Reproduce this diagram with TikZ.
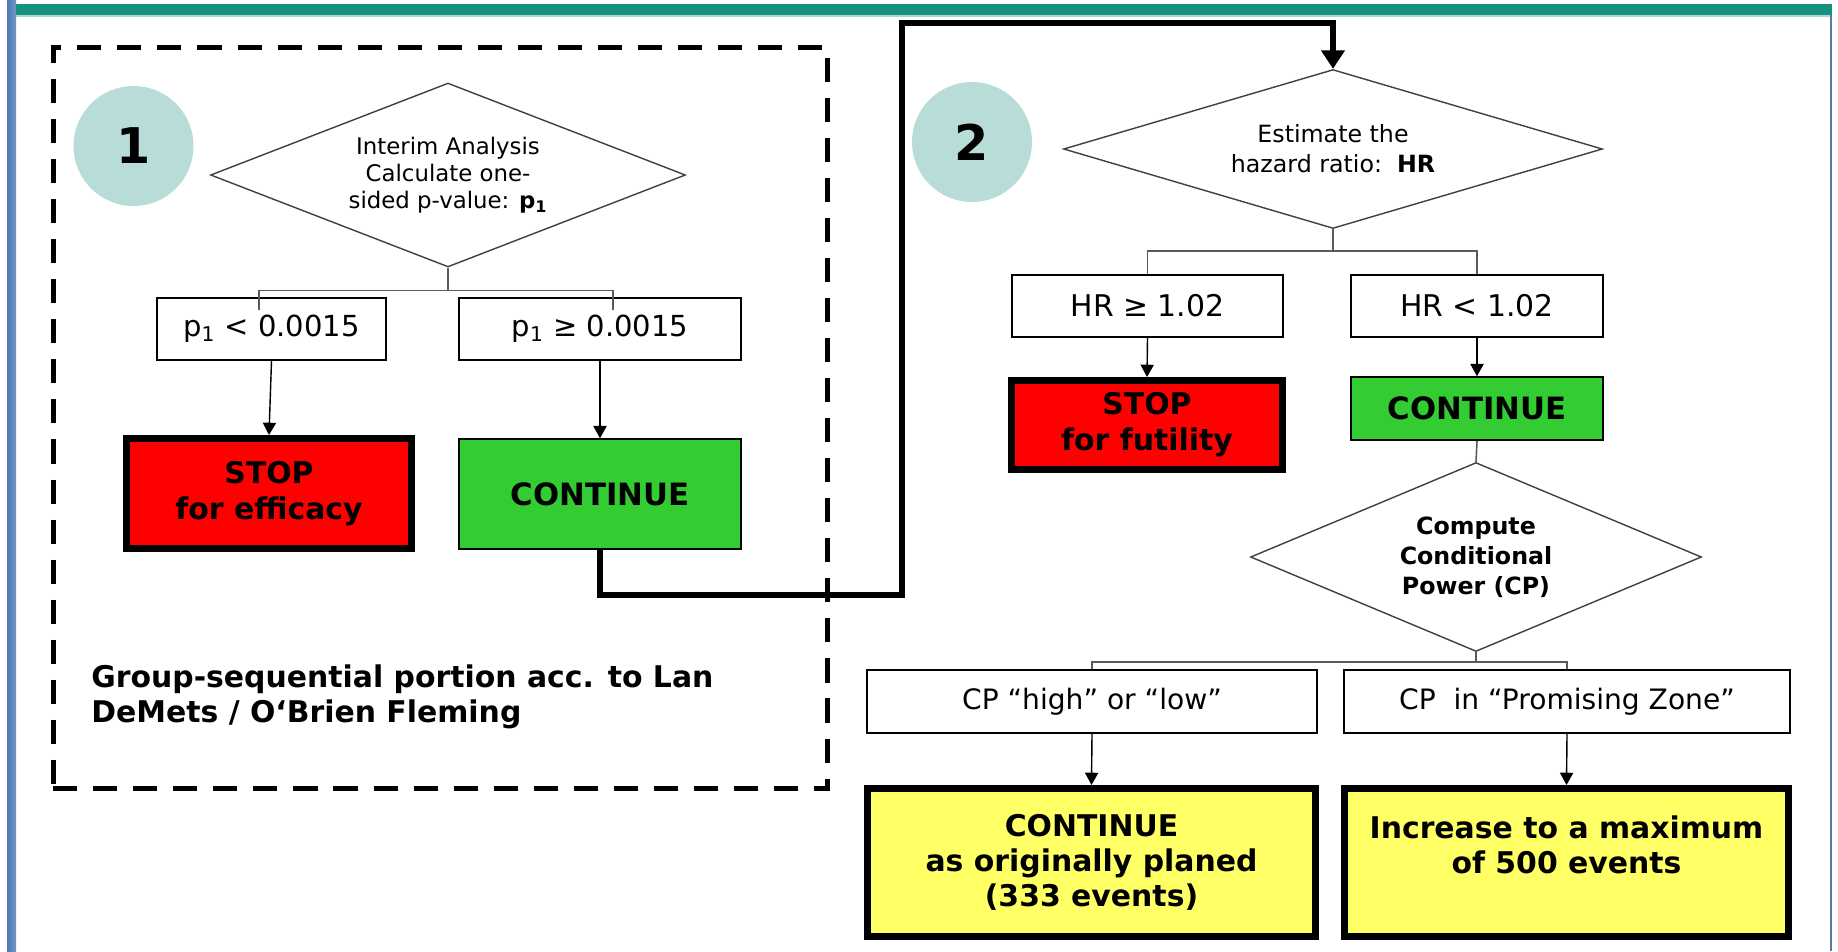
\documentclass[tikz,border=0pt]{standalone}
\usepackage{fontspec}
\setmainfont{DejaVu Sans}
\usetikzlibrary{shapes.geometric,arrows.meta,calc}
\definecolor{tealbar}{HTML}{17917F}
\definecolor{circfill}{HTML}{B8DDD8}
\definecolor{redfill}{HTML}{FF0000}
\definecolor{greenfill}{HTML}{33CC33}
\definecolor{yellowfill}{HTML}{FFFF66}
\definecolor{bluebarA}{HTML}{4F78AC}
\definecolor{bluebarB}{HTML}{7298CC}
\definecolor{edgeline}{HTML}{5B78A3}
\definecolor{dline}{HTML}{404040}
\definecolor{bline}{HTML}{5A5A5A}
\begin{document}
\begin{tikzpicture}[x=0.02cm,y=-0.02cm,
  plainbox/.style={draw=black,line width=0.85pt,fill=white,inner sep=0pt,align=center},
  thickbox/.style={draw=black,line width=4pt,inner sep=0pt,align=center},
  decision/.style={diamond,draw=dline,line width=0.8pt,inner sep=0pt,align=center},
  numcirc/.style={circle,fill=circfill,minimum size=2.4cm,inner sep=0pt,font=\bfseries\fontsize{28}{28}\selectfont},
  branch/.style={draw=bline,line width=0.9pt},
  arr/.style={draw=black,line width=0.8pt,-{Triangle[width=7.5pt,length=7pt]}},
  bigarr/.style={draw=black,line width=3.4pt,line join=miter,-{Triangle[width=13pt,length=10.5pt]}},
  boxfont/.style={font=\fontsize{16.5}{20}\selectfont},
  boldfont/.style={font=\bfseries\fontsize{17}{20.5}\selectfont}
]
\useasboundingbox (0,0) rectangle (1838,951);
% frame
\fill[white] (0,0) rectangle (1838,951);
\shade[left color=bluebarA,right color=bluebarB] (7,0) rectangle (16,951);
\fill[tealbar] (16,4) rectangle (1832,15);
\fill[tealbar!35] (16,15) rectangle (1832,16.5);
\draw[edgeline,line width=1.2pt] (1831,15) -- (1831,951);

% group-sequential dashed frame
\node[draw=black,line width=2.8pt,dash pattern=on 13.7pt off 9.1pt,minimum width=15.5cm,minimum height=14.84cm,inner sep=0pt] (grp) at (440.5,418) {};
\node[anchor=north west,inner sep=0pt,align=left,font=\bfseries\fontsize{17}{20}\selectfont] (lbl) at (91,664) {Group-sequential portion acc. to Lan\\DeMets / O‘Brien Fleming};

% part 1
\node[numcirc] (n1) at (133.5,146) {1};
\node[decision,aspect=2.58,minimum width=9.5cm,minimum height=3.68cm,font=\fontsize{13}{15.2}\selectfont] (d1) at (448,175) {Interim Analysis\\Calculate one-\\sided p-value: \textbf{p\textsubscript{1}}};
\node[plainbox,boxfont,minimum width=4.58cm,minimum height=1.24cm] (a1) at (271.5,329) {p\textsubscript{1} < 0.0015};
\node[plainbox,boxfont,minimum width=5.64cm,minimum height=1.24cm] (b1) at (600,329) {p\textsubscript{1} ≥ 0.0015};
\node[thickbox,boldfont,fill=redfill,minimum width=5.7cm,minimum height=2.2cm] (stop1) at (269,493.5) {STOP\\for efficacy};
\node[plainbox,font=\bfseries\fontsize{17.5}{21}\selectfont,fill=greenfill,minimum width=5.64cm,minimum height=2.2cm] (cont1) at (600,494) {CONTINUE};

\draw[branch] (d1.south) -- ++(0,23) coordinate (j1);
\draw[branch] ([shift={(-12.5,13)}]a1.north) |- (j1) -| ([shift={(13,13)}]b1.north);
\draw[arr] (a1.south) -- (stop1.north);
\draw[arr] (b1.south) -- (cont1.north);

% part 2
\node[numcirc] (n2) at (972,142) {2};
\node[decision,aspect=3.39,minimum width=10.78cm,minimum height=3.18cm,font=\fontsize{13.5}{17}\selectfont] (d2) at (1333,149) {Estimate the\\hazard ratio:\ \ \textbf{HR}};

\coordinate (t1) at (902,595);
\coordinate (t2) at (902,23);
\draw[bigarr] (cont1.south) |- (t1) -- (t2) -| (d2.north);

\node[plainbox,font=\fontsize{17}{20}\selectfont,minimum width=5.42cm,minimum height=1.24cm] (hr1) at (1147.5,306) {HR ≥ 1.02};
\node[plainbox,font=\fontsize{17}{20}\selectfont,minimum width=5.04cm,minimum height=1.24cm] (hr2) at (1477,306) {HR < 1.02};
\node[thickbox,boldfont,fill=redfill,minimum width=5.42cm,minimum height=1.78cm] (stop2) at (1147,425) {STOP\\for futility};
\node[plainbox,font=\bfseries\fontsize{17.5}{21}\selectfont,fill=greenfill,minimum width=5.04cm,minimum height=1.26cm] (cont2) at (1477,408.5) {CONTINUE};

\draw[branch] (d2.south) -- ++(0,22) coordinate (j2);
\draw[branch] (hr1.north) |- (j2) -| (hr2.north);
\draw[arr] (hr1.south) -- (stop2.north);
\draw[arr] (hr2.south) -- (cont2.north);

\node[decision,aspect=2.39,minimum width=9.02cm,minimum height=3.78cm,font=\bfseries\fontsize{13.5}{17}\selectfont] (d3) at (1476,557) {Compute\\Conditional\\Power (CP)};
\draw[branch] (cont2.south) -- (d3.north);

\node[plainbox,font=\fontsize{16}{20}\selectfont,minimum width=9.0cm,minimum height=1.26cm] (cp1) at (1092,701.5) {CP “high” or “low”};
\node[plainbox,font=\fontsize{16}{20}\selectfont,minimum width=8.92cm,minimum height=1.26cm] (cp2) at (1567,701.5) {CP\ \ in “Promising Zone”};

\draw[branch] (d3.south) -- ++(0,10) coordinate (j3);
\draw[branch] (cp1.north) |- (j3) -| (cp2.north);

\node[thickbox,font=\bfseries\fontsize{17}{20}\selectfont,fill=yellowfill,minimum width=8.96cm,minimum height=2.96cm] (y1) at (1091.5,862.5) {CONTINUE\\as originally planed\\(333 events)};
\node[thickbox,font=\bfseries\fontsize{17}{20}\selectfont,fill=yellowfill,minimum width=8.88cm,minimum height=2.96cm] (y2) at (1566.5,862.5) {Increase to a maximum\\of 500 events\\~};

\draw[arr] (cp1.south) -- (y1.north);
\draw[arr] (cp2.south) -- (y2.north);
\end{tikzpicture}
\end{document}
